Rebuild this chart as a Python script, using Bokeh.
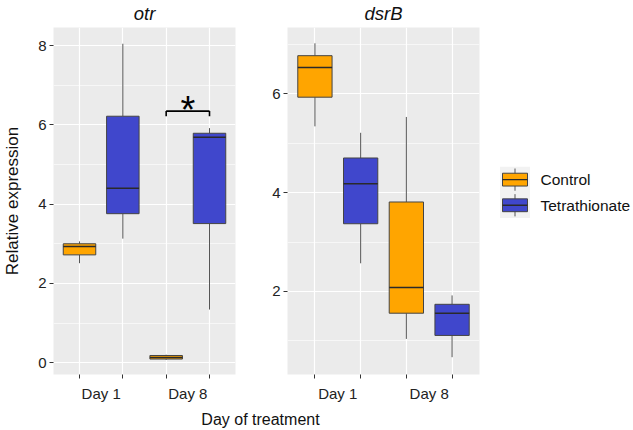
from bokeh.plotting import figure
from bokeh.layouts import row, column
from bokeh.models import Range1d, FixedTicker
from bokeh.core.properties import value
from bokeh.embed import file_html
from bokeh.resources import INLINE

FONT = "Liberation Sans"

# ---------------- data ----------------
days = ["Day 1", "Day 8"]
treatments = ["Control", "Tetrathionate"]
colors = ["#FFA500", "#4047CC"]
genes = ["otr", "dsrB"]

# order of boxes: Day1-Control, Day1-Tetrathionate, Day8-Control, Day8-Tetrathionate
otr_low = [2.51, 3.13, 0.07, 1.34]
otr_q1 = [2.72, 3.76, 0.09, 3.51]
otr_med = [2.93, 4.40, 0.13, 5.69]
otr_q3 = [3.00, 6.22, 0.18, 5.79]
otr_high = [3.06, 8.05, 0.20, 5.92]

dsr_low = [5.34, 2.57, 1.04, 0.67]
dsr_q1 = [5.93, 3.37, 1.56, 1.11]
dsr_med = [6.53, 4.18, 2.08, 1.56]
dsr_q3 = [6.77, 4.70, 3.81, 1.74]
dsr_high = [7.02, 5.21, 5.53, 1.92]

otr_ticks = [0, 2, 4, 6, 8]
otr_minor = [1, 3, 5, 7]
dsr_ticks = [2, 4, 6]
dsr_minor = [1, 3, 5, 7]

# significance bracket (otr, Day 8: Control vs Tetrathionate)
sig_pair = [2, 3]
sig_y = 6.35
sig_tick = 6.22
sig_text = "*"
star_y = 6.37

H = 406
BOX_W = 0.75


def panel(title, low, q1, med, q3, high, yr, ticks, minor, frame_w, bl, br, ylabel=None):
    n = len(low)
    xs = list(range(n))
    fills = [colors[i % len(treatments)] for i in xs]
    p = figure(width=bl + frame_w + br, height=H,
               x_range=Range1d(-0.6, n - 0.4), y_range=Range1d(*yr),
               output_backend="svg", toolbar_location=None,
               min_border_left=bl, min_border_right=br,
               min_border_top=27, min_border_bottom=H - 27 - 347)
    p.background_fill_color = "#EBEBEB"
    p.border_fill_color = "white"
    p.outline_line_color = None

    p.title.text = title
    p.title.align = "center"
    p.title.vertical_align = "top"
    p.title.text_font = FONT
    p.title.text_font_size = "18.5px"
    p.title.text_font_style = "italic"
    p.title.text_color = "#111111"
    p.title.standoff = 3

    # grid
    p.xgrid.ticker = FixedTicker(ticks=xs)
    p.xgrid.grid_line_color = "white"
    p.xgrid.grid_line_width = 1.2
    p.ygrid.ticker = FixedTicker(ticks=ticks, minor_ticks=minor)
    p.ygrid.grid_line_color = "white"
    p.ygrid.grid_line_width = 1.2
    p.ygrid.minor_grid_line_color = "white"
    p.ygrid.minor_grid_line_width = 0.6

    # axes
    p.axis.axis_line_color = None
    p.axis.major_label_text_font = FONT
    p.axis.major_label_text_font_size = "15px"
    p.axis.major_label_text_color = "#222222"
    p.yaxis.ticker = FixedTicker(ticks=ticks)
    p.yaxis.major_tick_line_color = "#333333"
    p.yaxis.major_tick_out = 4
    p.yaxis.major_tick_in = 0
    p.yaxis.minor_tick_line_color = None
    p.yaxis.major_label_standoff = 3

    n_t = len(treatments)
    day_pos = [i * n_t + (n_t - 1) / 2 for i in range(len(days))]
    p.xaxis.ticker = FixedTicker(ticks=day_pos, minor_ticks=xs)
    p.xaxis.major_label_overrides = {pos: d for pos, d in zip(day_pos, days)}
    p.xaxis.major_tick_line_color = None
    p.xaxis.major_tick_out = 4
    p.xaxis.major_tick_in = 0
    p.xaxis.minor_tick_line_color = "#333333"
    p.xaxis.minor_tick_out = 4
    p.xaxis.minor_tick_in = 0
    p.xaxis.major_label_standoff = 6

    if ylabel:
        p.yaxis.axis_label = ylabel
        p.yaxis.axis_label_text_font = FONT
        p.yaxis.axis_label_text_font_size = "17px"
        p.yaxis.axis_label_text_font_style = "normal"
        p.yaxis.axis_label_text_color = "#111111"
        p.yaxis.axis_label_standoff = 13

    # boxplots
    p.segment(x0=xs, y0=q3, x1=xs, y1=high, line_color="#555555", line_width=1)
    p.segment(x0=xs, y0=low, x1=xs, y1=q1, line_color="#555555", line_width=1)
    p.vbar(x=xs, width=BOX_W, top=q3, bottom=q1, fill_color=fills,
           line_color="#444444", line_width=1)
    p.segment(x0=[x - BOX_W / 2 for x in xs], y0=med,
              x1=[x + BOX_W / 2 for x in xs], y1=med,
              line_color="#2a2a2a", line_width=1.4)
    return p


p1 = panel(genes[0], otr_low, otr_q1, otr_med, otr_q3, otr_high, (-0.30, 8.46),
           otr_ticks, otr_minor, 187, 48, 10, ylabel="Relative expression")
p2 = panel(genes[1], dsr_low, dsr_q1, dsr_med, dsr_q3, dsr_high, (0.32, 7.34),
           dsr_ticks, dsr_minor, 192, 42, 4)

# significance bracket
a, b = sig_pair
p1.segment(x0=[a, a, b], y0=[sig_y, sig_y, sig_y], x1=[b, a, b], y1=[sig_y, sig_tick, sig_tick],
           line_color="black", line_width=1.6)
p1.text(x=[(a + b) / 2], y=[star_y], text=[sig_text], text_font=value(FONT),
        text_font_size="38px", text_align="center", text_baseline="alphabetic",
        text_color="black")

# ---------------- legend panel ----------------
LX0 = p1.width + p2.width
LW = 633 - LX0
pl = figure(width=LW, height=H, x_range=Range1d(LX0, LX0 + LW), y_range=Range1d(H, 0),
            output_backend="svg", toolbar_location=None,
            x_axis_location=None, y_axis_location=None,
            min_border_left=0, min_border_right=0, min_border_top=0, min_border_bottom=0)
pl.grid.visible = False
pl.outline_line_color = None
pl.background_fill_color = "white"

key_cx = 514.5
key_top = 163
row_h = 30
n_t = len(treatments)
cys = [key_top + row_h / 2 + i * row_h for i in range(n_t)]
pl.quad(left=[key_cx - 15], right=[key_cx + 15], top=[key_top], bottom=[key_top + row_h * n_t],
        fill_color="#F2F2F2", line_color=None)
pl.segment(x0=[key_cx] * n_t, y0=[c - 13 for c in cys], x1=[key_cx] * n_t, y1=[c + 13 for c in cys],
           line_color="#555555", line_width=1)
pl.quad(left=[key_cx - 12.5] * n_t, right=[key_cx + 12.5] * n_t,
        top=[c - 7.5 for c in cys], bottom=[c + 7.5 for c in cys],
        fill_color=colors, line_color="#444444", line_width=1)
pl.segment(x0=[key_cx - 12.5] * n_t, y0=cys, x1=[key_cx + 12.5] * n_t, y1=cys,
           line_color="#2a2a2a", line_width=1.4)
pl.text(x=[key_cx + 25.5] * n_t, y=cys, text=treatments, text_font=value(FONT),
        text_font_size="15.5px", text_align="left", text_baseline="middle",
        text_color="#111111")

# ---------------- x title ----------------
TW = 633
TH = 430 - H
pt = figure(width=TW, height=TH, x_range=Range1d(0, TW), y_range=Range1d(H + TH, H),
            output_backend="svg", toolbar_location=None,
            x_axis_location=None, y_axis_location=None,
            min_border_left=0, min_border_right=0, min_border_top=0, min_border_bottom=0)
pt.grid.visible = False
pt.outline_line_color = None
pt.text(x=[260], y=[419], text=["Day of treatment"], text_font=value(FONT),
        text_font_size="16px", text_align="center", text_baseline="middle",
        text_color="#111111")

layout = column(row(p1, p2, pl), pt)
open("out.html", "w").write(file_html(layout, INLINE))
